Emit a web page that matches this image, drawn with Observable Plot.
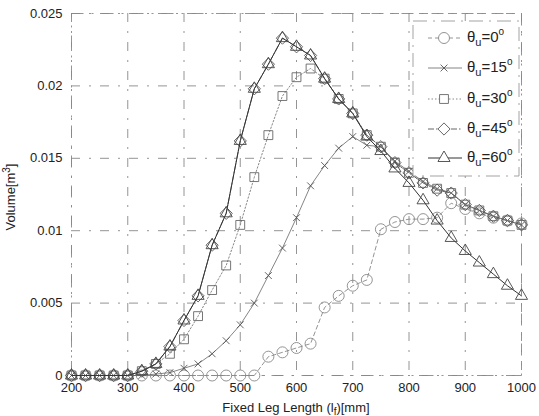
<!DOCTYPE html>
<html><head><meta charset="utf-8">
<script src="https://cdn.jsdelivr.net/npm/d3@7"></script>
<script src="https://cdn.jsdelivr.net/npm/@observablehq/plot@0.6"></script>
<style>body{margin:0;background:#fff;} svg{display:block;}</style>
</head><body><div id="chart"></div>
<script>
// ---- data ----
const legLength = [200,225,250,275,300,325,350,375,400,425,450,475,500,525,550,575,600,625,650,675,700,725,750,775,800,825,850,875,900,925,950,975,1000];
const vol0  = [0,0,0,0,0,0,0,0,0,0,0,0,0,0,0.0013,0.0016,0.0019,0.0022,0.0047,0.0055,0.0062,0.0066,0.0101,0.0106,0.0108,0.0108,0.0109,0.0119,0.0115,0.0112,0.0109,0.0107,0.0105];
const vol15 = [0,0,0,0,0,0,0.0001,0.0002,0.0005,0.0008,0.0015,0.0024,0.0035,0.0050,0.0069,0.0088,0.0109,0.0131,0.0145,0.0157,0.0165,0.0159,0.0158,0.0148,0.0141,0.0134,0.0129,0.0126,0.0118,0.0114,0.0110,0.0107,0.0104];
const vol30 = [0,0,0,0,0,0.0003,0.0008,0.0015,0.0025,0.0041,0.0059,0.0076,0.0104,0.0137,0.0166,0.0193,0.0206,0.0212,0.0205,0.0191,0.0181,0.0166,0.0158,0.0147,0.0140,0.0133,0.0129,0.0126,0.0118,0.0114,0.0110,0.0107,0.0104];
const vol45 = [0,0,0,0,0,0.0003,0.0008,0.0020,0.0038,0.0055,0.0090,0.0112,0.0162,0.0198,0.0215,0.0233,0.0227,0.0221,0.0205,0.0191,0.0181,0.0166,0.0158,0.0147,0.0140,0.0133,0.0128,0.0126,0.0118,0.0114,0.0110,0.0107,0.0104];
const vol60 = [0,0,0,0,0,0.0003,0.0008,0.0020,0.0038,0.0055,0.0090,0.0112,0.0162,0.0198,0.0215,0.0233,0.0227,0.0221,0.0205,0.0191,0.0181,0.0165,0.0155,0.0143,0.0133,0.0121,0.0107,0.0095,0.0086,0.0078,0.0070,0.0062,0.0055];
const angles = ["0","15","30","45","60"];
const xTicks = [200,300,400,500,600,700,800,900,1000];
const yTicks = [0,0.005,0.01,0.015,0.02,0.025];
const yTickLabels = ["0","0.005","0.01","0.015","0.02","0.025"];

// ---- styles ----
const seriesValues = [vol0, vol15, vol30, vol45, vol60];
const styles = [
  {symbol:"circle",   d3sym:d3.symbolCircle,   r:5.5, dash:"4,3",       stroke:"#888", mstroke:"#888", width:0.9},
  {symbol:"times",    d3sym:d3.symbolTimes,    r:3.2, dash:null,        stroke:"#666", mstroke:"#555", width:0.8},
  {symbol:"square",   d3sym:d3.symbolSquare,   r:5.0, dash:"1.5,2",     stroke:"#888", mstroke:"#666", width:1.0},
  {symbol:"diamond2", d3sym:d3.symbolDiamond2, r:5.5, dash:"6,2,1.5,2", stroke:"#666", mstroke:"#555", width:1.0},
  {symbol:"triangle", d3sym:d3.symbolTriangle, r:4.5, dash:null,        stroke:"#333", mstroke:"#444", width:1.0}
];

const gridStyle = {stroke:"#888", strokeOpacity:1, strokeWidth:0.9, strokeDasharray:"9,9,2,9"};

const marks = [
  Plot.gridX({ticks: xTicks, ...gridStyle}),
  Plot.gridY({ticks: yTicks, ...gridStyle}),
  Plot.frame({stroke:"#888", strokeWidth:0.9, strokeDasharray:"12,8,2,8"}),
  Plot.axisX({ticks: xTicks, tickSize:0, tickPadding:7, fontSize:13, label:null, tickFormat:(d)=>String(d)}),
  Plot.axisY({ticks: yTicks, tickSize:0, tickPadding:9, fontSize:13, label:null,
              tickFormat:(d)=>yTickLabels[yTicks.indexOf(d)]})
];
seriesValues.forEach((vals, i) => {
  const st = styles[i];
  const rows = legLength.map((x, j) => ({x, y: vals[j]}));
  marks.push(Plot.line(rows, {x:"x", y:"y", stroke:st.stroke, strokeWidth:st.width,
    strokeDasharray: st.dash || undefined}));
  marks.push(Plot.dot(rows, {x:"x", y:"y", symbol:()=>st.symbol, r:st.r, fill:"none",
    stroke:st.mstroke, strokeWidth:0.9}));
});

const W = 539, H = 416;
const plot = Plot.plot({
  width: W, height: H,
  marginLeft: 71, marginRight: 18, marginTop: 13, marginBottom: 41,
  style: {fontFamily: "'Liberation Sans', Arial, sans-serif", fontSize: "13px", color: "#222", background: "#fff"},
  x: {domain: [200, 1000]},
  y: {domain: [0, 0.025]},
  symbol: {type: "identity"},
  marks
});
document.getElementById("chart").appendChild(plot);

// ---- axis labels and legend ----
const svg = d3.select(plot);
const font = "'Liberation Sans', Arial, sans-serif";

const xl = svg.append("text").attr("x", 296).attr("y", 412).attr("text-anchor", "middle")
  .attr("font-family", font).attr("font-size", 13).attr("fill", "#222");
xl.append("tspan").text("Fixed Leg Length (l");
xl.append("tspan").attr("dy", 3).attr("font-size", 10).text("f");
xl.append("tspan").attr("dy", -3).text(")[mm]");

const yl = svg.append("text").attr("transform", "translate(15,197) rotate(-90)").attr("text-anchor", "middle")
  .attr("font-family", font).attr("font-size", 13).attr("fill", "#222");
yl.append("tspan").text("Volume[m");
yl.append("tspan").attr("dy", -5).attr("font-size", 10).text("3");
yl.append("tspan").attr("dy", 5).text("]");

const lg = svg.append("g");
lg.append("rect").attr("x", 413).attr("y", 21).attr("width", 106).attr("height", 155)
  .attr("fill", "#fff").attr("stroke", "#999").attr("stroke-width", 0.9).attr("stroke-dasharray", "14,6,2,6");
const rowY = [38, 68, 99, 129, 158];
angles.forEach((a, i) => {
  const st = styles[i], y = rowY[i];
  lg.append("line").attr("x1", 428).attr("x2", 462).attr("y1", y).attr("y2", y)
    .attr("stroke", st.stroke).attr("stroke-width", st.width)
    .attr("stroke-dasharray", st.dash || null);
  lg.append("path").attr("transform", `translate(444,${y})`)
    .attr("d", d3.symbol(st.d3sym, st.r * st.r * Math.PI)())
    .attr("fill", "#fff").attr("stroke", st.mstroke).attr("stroke-width", 0.9);
  const t = lg.append("text").attr("x", 467).attr("y", y + 4).attr("text-anchor", "start")
    .attr("font-family", font).attr("font-size", 15).attr("fill", "#222");
  t.append("tspan").text("θ");
  t.append("tspan").attr("dy", 4).attr("font-size", 11).text("u");
  t.append("tspan").attr("dy", -4).text("=" + a);
  t.append("tspan").attr("dy", -7).attr("font-size", 10).text("o");
});
</script>
</body></html>
